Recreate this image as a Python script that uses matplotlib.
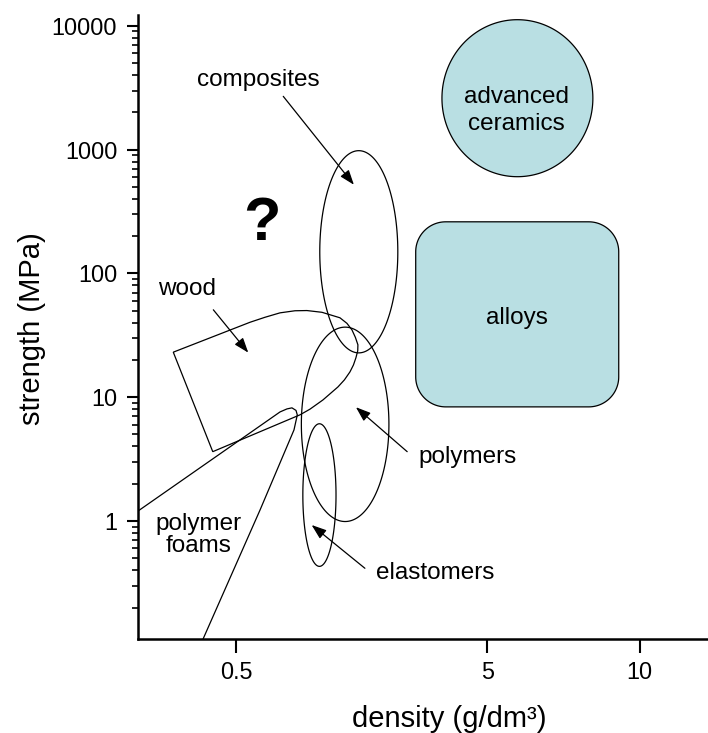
"""Strength vs density map of material classes (Ashby-style sketch)."""

import matplotlib
matplotlib.use("Agg")  # write files without needing a display
import matplotlib.pyplot as plt
import numpy as np
from matplotlib.ticker import FixedLocator, LogLocator, NullFormatter, NullLocator

plt.rcParams["font.family"] = ["Liberation Sans", "DejaVu Sans"]

# outlines: density in g/dm3, strength in MPa
wood_density = [0.106, 0.628, 0.780, 0.950, 1.136, 1.296, 1.512, 1.793, 1.909,
                1.994, 2.054, 2.098, 2.095, 2.063, 2.020, 1.960, 1.867, 1.761,
                1.527, 1.338, 1.201, 0.320]
wood_strength = [23.1, 40.3, 44.2, 48.0, 49.9, 50.1, 48.5, 43.8, 39.5,
                 35.0, 30.4, 26.5, 23.7, 20.8, 18.2, 16.0, 13.8, 12.1,
                 9.5, 8.0, 7.2, 3.63]

foam_density = [0.0125, 0.535, 0.950, 1.034, 1.097, 1.149, 1.166, 1.123, 0.728, 0.255]
foam_strength = [1.205, 4.52, 7.60, 8.04, 8.20, 7.82, 7.19, 5.44, 1.227, 0.11]

# regions given as (density low, density high, strength low, strength high)
composites = (1.48, 2.86, 22.8, 980)
polymers = (1.22, 2.68, 0.99, 36.8)
elastomers = (1.24, 1.73, 0.43, 6.1)
ceramics = (3.84, 8.28, 604, 11200)
alloys = (3.24, 9.21, 8.35, 261)

x_ticks = [0.5, 5, 10]
x_tick_labels = ["0.5", "5", "10"]
y_ticks = [1, 10, 100, 1000, 10000]
y_tick_labels = ["1", "10", "100", "1000", "10000"]

FILL = "#b9dfe3"
LW = 0.9
FS = 17.5

fig = plt.figure(figsize=(7.08, 7.33), dpi=100)
ax = fig.add_axes([0.195, 0.128, 0.805, 0.852])
ax.set_xscale("function", functions=(np.sqrt, np.square))
ax.set_yscale("log")
ax.set_xlim(0.0124, 12.8)
ax.set_ylim(0.111, 12300)


def to_data(pts):
    return ax.transData.inverted().transform(pts)


def box_px(box):
    return ax.transData.transform([(box[0], box[2]), (box[1], box[3])])


def ellipse(box, n=240):
    (x0, y0), (x1, y1) = box_px(box)
    t = np.linspace(0, 2 * np.pi, n)
    pts = np.column_stack([(x0 + x1) / 2 + (x1 - x0) / 2 * np.cos(t),
                           (y0 + y1) / 2 + (y1 - y0) / 2 * np.sin(t)])
    return to_data(pts).T


def rounded_box(box, r=30, n=30):
    (x0, y0), (x1, y1) = box_px(box)
    pts = []
    for cx, cy, a in [(x1 - r, y1 - r, 0), (x0 + r, y1 - r, 90),
                      (x0 + r, y0 + r, 180), (x1 - r, y0 + r, 270)]:
        t = np.radians(np.linspace(a, a + 90, n))
        pts += list(zip(cx + r * np.cos(t), cy + r * np.sin(t)))
    return to_data(np.array(pts)).T


# filled regions
ax.fill(*ellipse(ceramics), facecolor=FILL, edgecolor="black", lw=LW)
ax.fill(*rounded_box(alloys), facecolor=FILL, edgecolor="black", lw=LW)

# outline regions
for region in (composites, polymers, elastomers):
    ax.fill(*ellipse(region), fill=False, edgecolor="black", lw=LW)
ax.fill(wood_density, wood_strength, fill=False, edgecolor="black", lw=LW)
ax.plot(foam_density, foam_strength, color="black", lw=LW,
        solid_joinstyle="round")

# labels and pointers
ax.text(5.83, 2080, "advanced\nceramics", ha="center", va="center", fontsize=FS,
        linespacing=1.3)
ax.text(5.83, 44, "alloys", ha="center", va="center", fontsize=FS)
ax.text(0.707, 3674, "composites", ha="center", va="center", fontsize=FS)
ax.text(0.1676, 75.1, "wood", ha="center", va="center", fontsize=FS)
ax.text(4.48, 3.29, "polymers", ha="center", va="center", fontsize=FS)
ax.text(3.67, 0.38, "elastomers", ha="center", va="center", fontsize=FS)
ax.text(0.227, 0.77, "polymer\nfoams", ha="center", va="center", fontsize=FS,
        linespacing=1.05)
ax.text(0.748, 250, "?", ha="center", va="center", fontsize=44, fontweight="bold")

arrow = dict(arrowstyle="-|>,head_length=0.5,head_width=0.18", color="black",
             lw=LW, shrinkA=0, shrinkB=0, mutation_scale=18)
for start, tip in [((0.989, 2692), (2.028, 520)),
                   ((0.324, 50.8), (0.611, 22.9)),
                   ((3.056, 3.63), (2.063, 8.30)),
                   ((2.223, 0.415), (1.362, 0.928))]:
    ax.annotate("", xy=tip, xytext=start, arrowprops=arrow)

# axes
for side in ("top", "right"):
    ax.spines[side].set_visible(False)
for side in ("left", "bottom"):
    ax.spines[side].set_linewidth(1.8)

ax.xaxis.set_major_locator(FixedLocator(x_ticks))
ax.set_xticklabels(x_tick_labels)
ax.xaxis.set_minor_locator(NullLocator())
ax.yaxis.set_major_locator(FixedLocator(y_ticks))
ax.set_yticklabels(y_tick_labels)
ax.yaxis.set_minor_locator(LogLocator(base=10, subs=np.arange(2, 10)))
ax.yaxis.set_minor_formatter(NullFormatter())

ax.tick_params(axis="x", which="major", length=10, width=1.5, labelsize=16.8, pad=6)
ax.tick_params(axis="y", which="major", length=8, width=1.5, labelsize=16.8, pad=7)
ax.tick_params(axis="y", which="minor", length=4.5, width=1.2)

ax.set_xlabel("density (g/dm³)", fontsize=21)
ax.xaxis.set_label_coords((449 - 138) / 570, -0.106)
ax.set_ylabel("strength (MPa)", fontsize=21)
ax.yaxis.set_label_coords(-0.161, 0.498)

fig.savefig("out.png", dpi=100)
plt.close(fig)
